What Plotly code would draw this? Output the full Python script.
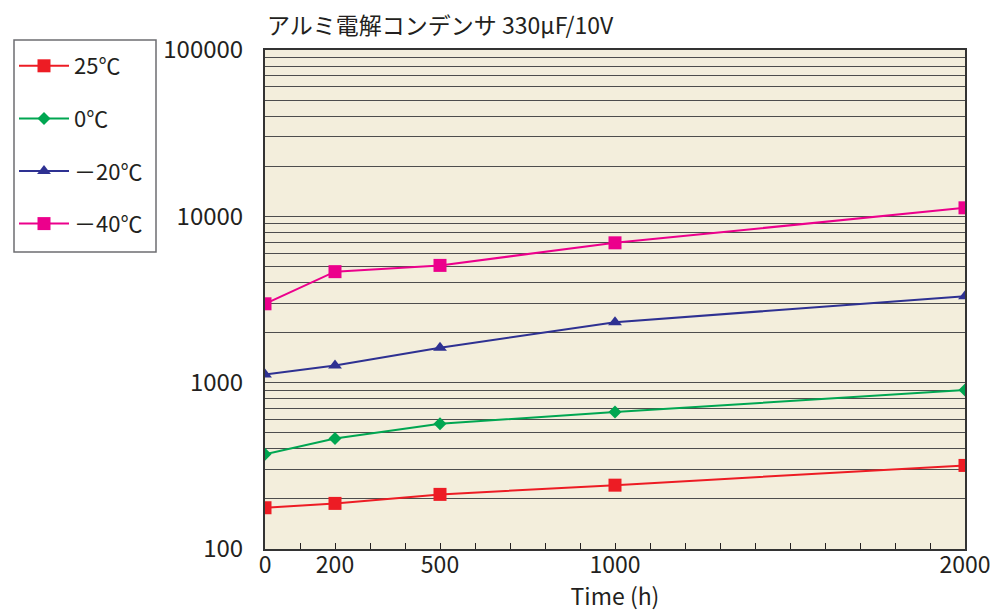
import plotly.graph_objects as go

time_h = [0, 200, 500, 1000, 2000]
esr_25 = [177, 188, 213, 242, 318]
esr_0 = [371, 462, 567, 666, 903]
esr_m20 = [1120, 1270, 1622, 2310, 3310]
esr_m40 = [2980, 4650, 5070, 6930, 11250]

series_names = ["25℃", "0℃", "－20℃", "－40℃"]
x_tick_vals = [0, 200, 500, 1000, 2000]
y_tick_labels = ["100", "1000", "10000", "100000"]

FONT = "Noto Sans CJK JP"
colors = ["#ED1C24", "#00A651", "#2E3192", "#EC008C"]
symbols = ["square", "diamond", "triangle-up", "square"]
sizes = [13, 10, 12, 13]
data = [esr_25, esr_0, esr_m20, esr_m40]

fig = go.Figure()
for i, (name, ys) in enumerate(zip(series_names, data)):
    fig.add_trace(go.Scatter(
        x=time_h, y=ys, name=name, mode="lines+markers",
        legendgroup=f"g{i}",
        line=dict(color=colors[i], width=2),
        marker=dict(symbol=symbols[i], size=sizes[i], color=colors[i]),
    ))

yvals, ytext = [], []
for d in range(2, 5):
    for k in range(1, 10):
        yvals.append(k * 10 ** d)
        ytext.append(y_tick_labels[d - 2] if k == 1 else "")
yvals.append(100000)
ytext.append(y_tick_labels[3])

# page body has an 8px margin, so the figure is laid out 8px smaller
OFF = 8
W, H = 998 - OFF, 612 - OFF
plot_left, plot_right, plot_top, plot_bottom = 265 - OFF, 965 - OFF, 50 - OFF, 549 - OFF
pw, ph = plot_right - plot_left, plot_bottom - plot_top

def px_to_paper_x(px):
    return (px - OFF - plot_left) / pw

def px_to_paper_y(py):
    return (plot_bottom - (py - OFF)) / ph

fig.update_layout(
    width=W, height=H,
    margin=dict(l=plot_left, r=W - plot_right, t=plot_top, b=H - plot_bottom, autoexpand=False),
    paper_bgcolor="white",
    plot_bgcolor="#F3EEDC",
    font=dict(family=FONT, size=22, color="#231F20"),
    showlegend=True,
    legend=dict(
        x=(14 - OFF) / W, y=1 - (45 - OFF) / H, xref="container", yref="container",
        xanchor="left", yanchor="top",
        borderwidth=0, bgcolor="rgba(0,0,0,0)",
        font=dict(family=FONT, size=22, color="#231F20"),
        tracegroupgap=21, itemwidth=50,
    ),
    shapes=[
        dict(type="rect", xref="paper", yref="paper",
             x0=px_to_paper_x(14), x1=px_to_paper_x(156),
             y0=px_to_paper_y(252), y1=px_to_paper_y(40),
             line=dict(color="#6D6E71", width=1.5), fillcolor="white", layer="below"),
    ],
    annotations=[
        dict(text="アルミ電解コンデンサ 330μF/10V", xref="paper", yref="paper",
             x=0, y=px_to_paper_y(24),
             xanchor="left", yanchor="middle", showarrow=False,
             font=dict(family=FONT, size=23, color="#231F20")),
    ],
)

fig.update_xaxes(
    range=[0, 2000], tickmode="array", tickvals=x_tick_vals,
    ticktext=[str(v) for v in x_tick_vals],
    ticks="inside", ticklen=6, tickcolor="#231F20", tickwidth=1,
    minor=dict(dtick=100, tick0=0, ticks="inside", ticklen=6, tickcolor="#231F20", tickwidth=1, showgrid=False),
    showgrid=False, zeroline=False,
    showline=True, linecolor="#333333", linewidth=2, mirror=True,
    title=dict(text="Time (h)", standoff=0, font=dict(size=23)),
    tickfont=dict(size=23), ticklabelstandoff=-6,
)
fig.update_yaxes(
    type="log", range=[2, 5], tickmode="array", tickvals=yvals, ticktext=ytext,
    ticks="", showgrid=True, gridcolor="#4D4D4D", gridwidth=1,
    zeroline=False, showline=True, linecolor="#333333", linewidth=2, mirror=True,
    tickfont=dict(size=24), ticklabelstandoff=15,
)

fig.write_html("out.html")
